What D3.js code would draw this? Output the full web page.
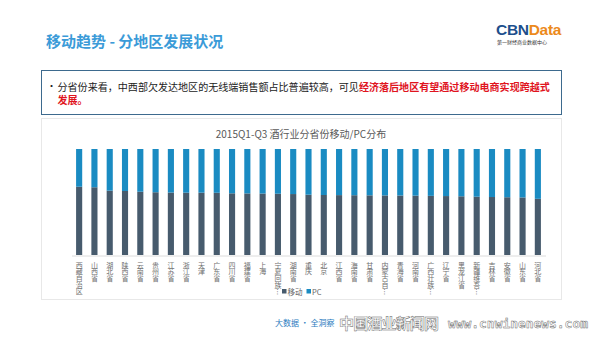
<!DOCTYPE html>
<html><head><meta charset="utf-8">
<script src="https://cdn.jsdelivr.net/npm/d3@7/dist/d3.min.js"></script>
<style>
html,body{margin:0;padding:0;background:#fff;}
svg{display:block;font-family:"Noto Sans CJK SC","Noto Sans",sans-serif;}
</style></head>
<body>
<svg id="c" width="600" height="337"></svg>
<script>
const categories = ["西藏自治区","山西省","湖北省","陕西省","云南省","贵州省","江苏省","浙江省","天津","广东省","四川省","福建省","上海","宁夏回族…","湖南省","重庆","北京","江西省","海南省","甘肃省","内蒙古自…","青海省","河南省","广西壮族…","辽宁省","黑龙江省","新疆维吾…","吉林省","安徽省","山东省","河北省"];
const mobile = [64.4,63.9,60.7,60.4,59.7,59.2,58.9,58.8,58.8,58.7,58.2,58.1,58.0,57.8,57.5,56.9,56.6,56.5,56.4,56.3,56.2,56.1,56.0,55.8,55.6,55.4,55.0,54.7,54.5,54.3,53.0];
const pc = [35.6,36.1,39.3,39.6,40.3,40.8,41.1,41.2,41.2,41.3,41.8,41.9,42.0,42.2,42.5,43.1,43.4,43.5,43.6,43.7,43.8,43.9,44.0,44.2,44.4,44.6,45.0,45.3,45.5,45.7,47.0];
const seriesNames = ["移动","PC"];
const chartTitle = "2015Q1-Q3 酒行业分省份移动/PC分布";

const svg = d3.select("#c");
const colors = {"移动":"#475b6d","PC":"#1a8bc2"};

// page title
svg.append("text").attr("x",46).attr("y",47).attr("font-size",15).attr("font-weight","bold")
  .attr("fill","#3b9bd8").text("移动趋势 - 分地区发展状况");

// logo
const logo = svg.append("text").attr("x",496).attr("y",34.5).attr("font-size",15.5).attr("font-weight","bold")
  .attr("font-family","Arial, 'Liberation Sans', sans-serif").attr("letter-spacing",-0.3);
logo.append("tspan").attr("fill","#1d4f8c").text("CBN");
logo.append("tspan").attr("fill","#ec8a1c").text("Data");
svg.append("text").attr("x",497).attr("y",44).attr("font-size",5).attr("fill","#333").text("第一财经商业数据中心");

// text box
svg.append("rect").attr("x",41.5).attr("y",70.5).attr("width",520).attr("height",44).attr("fill","#fff")
  .attr("stroke","#3d6a8e").attr("stroke-width",1);
svg.append("text").attr("x",46.5).attr("y",90).attr("font-size",10).attr("fill","#222").text("•");
const t1 = svg.append("text").attr("x",57.5).attr("y",90.5).attr("font-size",10.05).attr("fill","#222");
t1.append("tspan").text("分省份来看，中西部欠发达地区的无线端销售额占比普遍较高，可见");
t1.append("tspan").attr("fill","#e0141e").attr("font-weight","bold").text("经济落后地区有望通过移动电商实现跨越式");
svg.append("text").attr("x",57.5).attr("y",104).attr("font-size",10.05).attr("fill","#e0141e").attr("font-weight","bold").text("发展。");

// chart panel
svg.append("rect").attr("x",41.5).attr("y",118.5).attr("width",520).attr("height",181).attr("fill","#fff")
  .attr("stroke","#e8e8e8").attr("stroke-width",1);

svg.append("text").attr("x",301).attr("y",137.5).attr("text-anchor","middle").attr("font-size",10)
  .attr("fill","#595959").text(chartTitle);

const x = d3.scaleBand().domain(categories).range([71.5,545.5]).paddingInner(0.6).paddingOuter(0.3);
const y = d3.scaleLinear().domain([0,100]).range([255,149]);

const rows = categories.map((c,i)=>({cat:c, "移动":mobile[i], "PC":pc[i]}));
const stacked = d3.stack().keys(seriesNames)(rows);

svg.append("g").selectAll("g").data(stacked).join("g").attr("fill",d=>colors[d.key])
  .selectAll("rect").data(d=>d).join("rect")
  .attr("x",d=>x(d.data.cat)).attr("width",x.bandwidth())
  .attr("y",d=>y(d[1])).attr("height",d=>y(d[0])-y(d[1]));

// baseline axis
const ax = svg.append("g").attr("transform","translate(0,255.5)")
  .call(d3.axisBottom(x).tickSize(0).tickFormat(""));
ax.select(".domain").attr("stroke","#dcdcdc");

// vertical labels (one text each, vertical writing mode)
svg.append("g").selectAll("text").data(categories).join("text")
  .attr("x",d=>x(d)+x.bandwidth()/2).attr("y",261.5)
  .attr("writing-mode","vertical-rl").style("writing-mode","vertical-rl")
  .attr("font-size",7).attr("letter-spacing",-0.3).attr("fill","#707070")
  .text(d=>d);

// legend
const lg = svg.append("g");
lg.append("rect").attr("x",282).attr("y",289).attr("width",4.5).attr("height",4.5).attr("fill",colors["移动"]);
lg.append("text").attr("x",287.5).attr("y",294.5).attr("font-size",7.5).attr("fill","#666").text("移动");
lg.append("rect").attr("x",306.5).attr("y",289).attr("width",4.5).attr("height",4.5).attr("fill",colors["PC"]);
lg.append("text").attr("x",312).attr("y",294.5).attr("font-size",7.5).attr("fill","#666").text("PC");

// footer
svg.append("text").attr("x",275).attr("y",326).attr("font-size",8).attr("fill","#2c7cc0").text("大数据 · 全洞察");
svg.append("text").attr("x",339).attr("y",329).attr("font-size",15).attr("font-weight","bold").attr("fill","#fff").attr("stroke","#666")
  .attr("stroke-width",0.45).attr("textLength",100).text("中国酒业新闻网");
svg.append("text").attr("x",448).attr("y",328).attr("font-size",13).attr("font-weight","bold").attr("fill","#fff").attr("stroke","#666")
  .attr("stroke-width",0.45).attr("textLength",140).attr("font-family","'DejaVu Sans Mono',monospace").text("www.cnwinenews.com");
</script>
</body></html>
